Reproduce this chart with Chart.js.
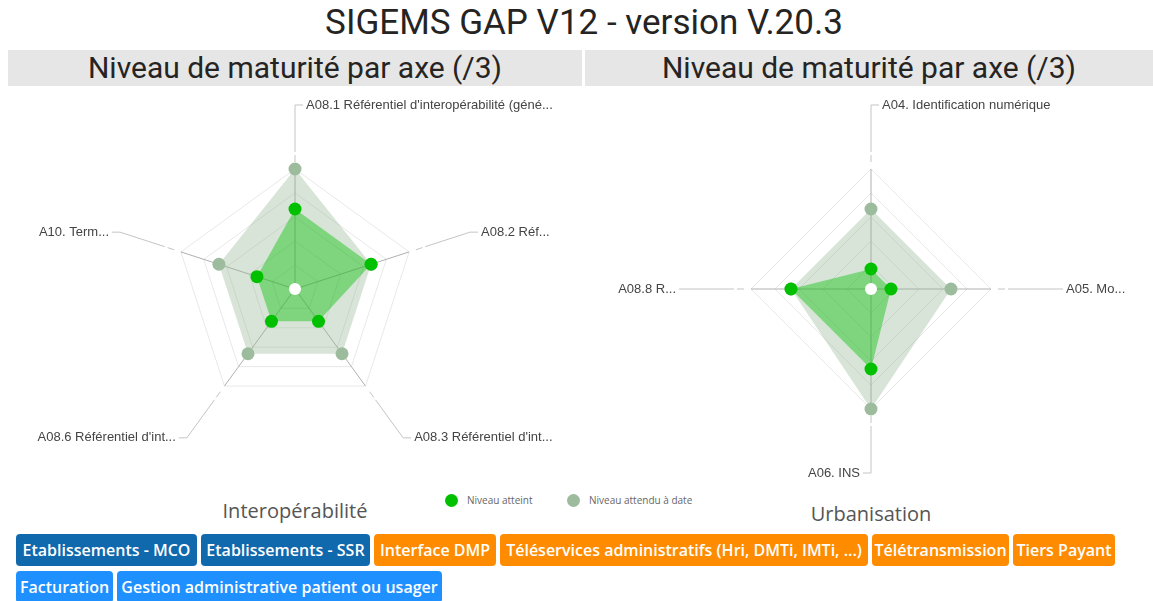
<!DOCTYPE html>
<html>
<head>
<meta charset="utf-8">
<script src="https://cdn.jsdelivr.net/npm/chart.js"></script>
<style>
    body {
        margin: 0;
        width: 1153px;
        height: 601px;
        overflow: hidden;
        background: #fff;
        position: relative;
        font-family: "Open Sans", sans-serif;
    }
    .title {
        position: absolute;
        top: 2px;
        left: 0;
        width: 1168px;
        text-align: center;
        font: 35px/42px Roboto, sans-serif;
        color: #252423;
    }
    .header {
        position: absolute;
        top: 50px;
        height: 36px;
        background: #e6e6e6;
        text-align: center;
        font: 30px/36px Roboto, sans-serif;
        color: #252423;
    }
    canvas {
        position: absolute;
        top: 88px;
    }
    .subtitle {
        position: absolute;
        width: 300px;
        text-align: center;
        font-size: 20px;
        color: #555;
    }
    .legend {
        position: absolute;
        top: 491px;
        font-size: 10px;
        line-height: 18px;
        color: #666;
    }
    .legend span.dot {
        display: inline-block;
        width: 13px;
        height: 13px;
        border-radius: 50%;
        vertical-align: -3px;
        margin-right: 9px;
    }
    .tags {
        position: absolute;
        left: 16px;
        top: 534px;
        width: 1120px;
        display: flex;
        flex-wrap: wrap;
        gap: 5px 4px;
    }
    .tag {
        height: 32px;
        line-height: 32px;
        border-radius: 4px;
        color: #fff;
        font-weight: 600;
        font-size: 16px;
        text-align: center;
        white-space: nowrap;
        overflow: hidden;
    }
</style>
</head>
<body>
<div class="title">SIGEMS GAP V12 - version V.20.3</div>
<div class="header" style="left: 8px; width: 574px">Niveau de maturité par axe (/3)</div>
<div class="header" style="left: 585px; width: 568px">Niveau de maturité par axe (/3)</div>

<canvas id="interop" width="576" height="400" style="left: 0"></canvas>
<canvas id="urba" width="577" height="400" style="left: 576px"></canvas>

<div class="legend" style="left: 445px"><span class="dot" style="background: #00c000"></span>Niveau atteint</div>
<div class="legend" style="left: 567px"><span class="dot" style="background: #9dbb9d"></span>Niveau attendu à date</div>

<div class="subtitle" style="left: 145px; top: 497px">Interopérabilité</div>
<div class="subtitle" style="left: 721px; top: 500px">Urbanisation</div>

<div class="tags" id="tags"></div>

<script>
// axes and values of the two radars (scale /3)
const interopLabels = [
    "A08.1 Référentiel d'interopérabilité (géné...",
    "A08.2 Réf...",
    "A08.3 Référentiel d'int...",
    "A08.6 Référentiel d'int...",
    "A10. Term...",
];
const interopAtteint = [2, 2, 1, 1, 1];
const interopAttendu = [3, 2, 2, 2, 2];

const urbaLabels = [
    "A04. Identification numérique",
    "A05. Mo...",
    "A06. INS",
    "A08.8 R...",
];
const urbaAtteint = [0.5, 0.5, 2, 2];
const urbaAttendu = [2, 2, 3, 2];

const tagNames = [
    "Etablissements - MCO",
    "Etablissements - SSR",
    "Interface DMP",
    "Téléservices administratifs (Hri, DMTi, IMTi, ...)",
    "Télétransmission",
    "Tiers Payant",
    "Facturation",
    "Gestion administrative patient ou usager",
];
const tagKinds = ["etab", "etab", "orange", "orange", "orange", "orange", "blue", "blue"];
const tagWidths = [181, 169, 122, 368, 137, 102, 97, 325];

const kindColors = { etab: "#1068ad", orange: "#ff8c00", blue: "#1e90ff" };

const tagsEle = document.getElementById("tags");
tagNames.forEach((name, i) => {
    const t = document.createElement("div");
    t.className = "tag";
    t.textContent = name;
    t.style.width = tagWidths[i] + "px";
    t.style.background = kindColors[tagKinds[i]];
    tagsEle.appendChild(t);
});

// leader lines + labels outside the grid, and the white hole in the center
const axisLabels = {
    id: "axisLabels",
    afterDatasetsDraw(chart) {
        const scale = chart.scales.r;
        const ctx = chart.ctx;
        const cx = scale.xCenter;
        const cy = scale.yCenter;
        const outer = scale.drawingArea;
        const seg = (a, b) => {
            ctx.beginPath();
            ctx.moveTo(a.x, a.y);
            ctx.lineTo(b.x, b.y);
            ctx.stroke();
        };

        ctx.save();
        ctx.lineWidth = 1;
        ctx.strokeStyle = "#c4c4c4";
        ctx.font = "13px 'Liberation Sans', Arial, sans-serif";
        ctx.fillStyle = "#444";
        ctx.textBaseline = "middle";

        chart.data.labels.forEach((label, i) => {
            const p = (d) => scale.getPointPosition(i, d);
            seg(p(outer + 7), p(outer + 14));
            const end = p(outer + 64);
            seg(p(outer + 17), end);

            const dx = end.x - cx;
            const right = dx > 1 || (Math.abs(dx) <= 1 && end.y < cy);
            const ex = end.x + (right ? 8 : -8);
            seg(end, { x: ex, y: end.y });

            ctx.textAlign = right ? "left" : "right";
            ctx.fillText(label, ex + (right ? 3 : -3), end.y);
        });

        ctx.beginPath();
        ctx.arc(cx, cy, 6, 0, 2 * Math.PI);
        ctx.fillStyle = "#fff";
        ctx.fill();
        ctx.restore();
    },
};

function makeRadar(id, labels, atteint, attendu, padding) {
    return new Chart(document.getElementById(id), {
        type: "radar",
        data: {
            labels: labels,
            datasets: [
                {
                    label: "Niveau atteint",
                    data: atteint,
                    backgroundColor: "rgba(0, 190, 0, 0.42)",
                    borderWidth: 0,
                    pointRadius: 6.5,
                    pointBackgroundColor: "#00c000",
                    pointBorderWidth: 0,
                    fill: true,
                },
                {
                    label: "Niveau attendu à date",
                    data: attendu,
                    backgroundColor: "rgba(143, 178, 143, 0.35)",
                    borderWidth: 0,
                    pointRadius: 6.5,
                    pointBackgroundColor: "#9dbb9d",
                    pointBorderWidth: 0,
                    fill: true,
                },
            ],
        },
        options: {
            responsive: false,
            animation: false,
            layout: { padding: padding },
            plugins: {
                legend: { display: false },
                tooltip: { enabled: false },
            },
            scales: {
                r: {
                    min: 0,
                    max: 3,
                    ticks: { display: false, count: 6 },
                    grid: { color: "#e8e8e8" },
                    angleLines: { color: "#b0b0b0" },
                    pointLabels: { display: false },
                },
            },
        },
        plugins: [axisLabels],
    });
}

makeRadar("interop", interopLabels, interopAtteint, interopAttendu,
    { left: 175, right: 161, top: 81, bottom: 79 });
makeRadar("urba", urbaLabels, urbaAtteint, urbaAttendu,
    { left: 175, right: 162, top: 81, bottom: 79 });
</script>
</body>
</html>
